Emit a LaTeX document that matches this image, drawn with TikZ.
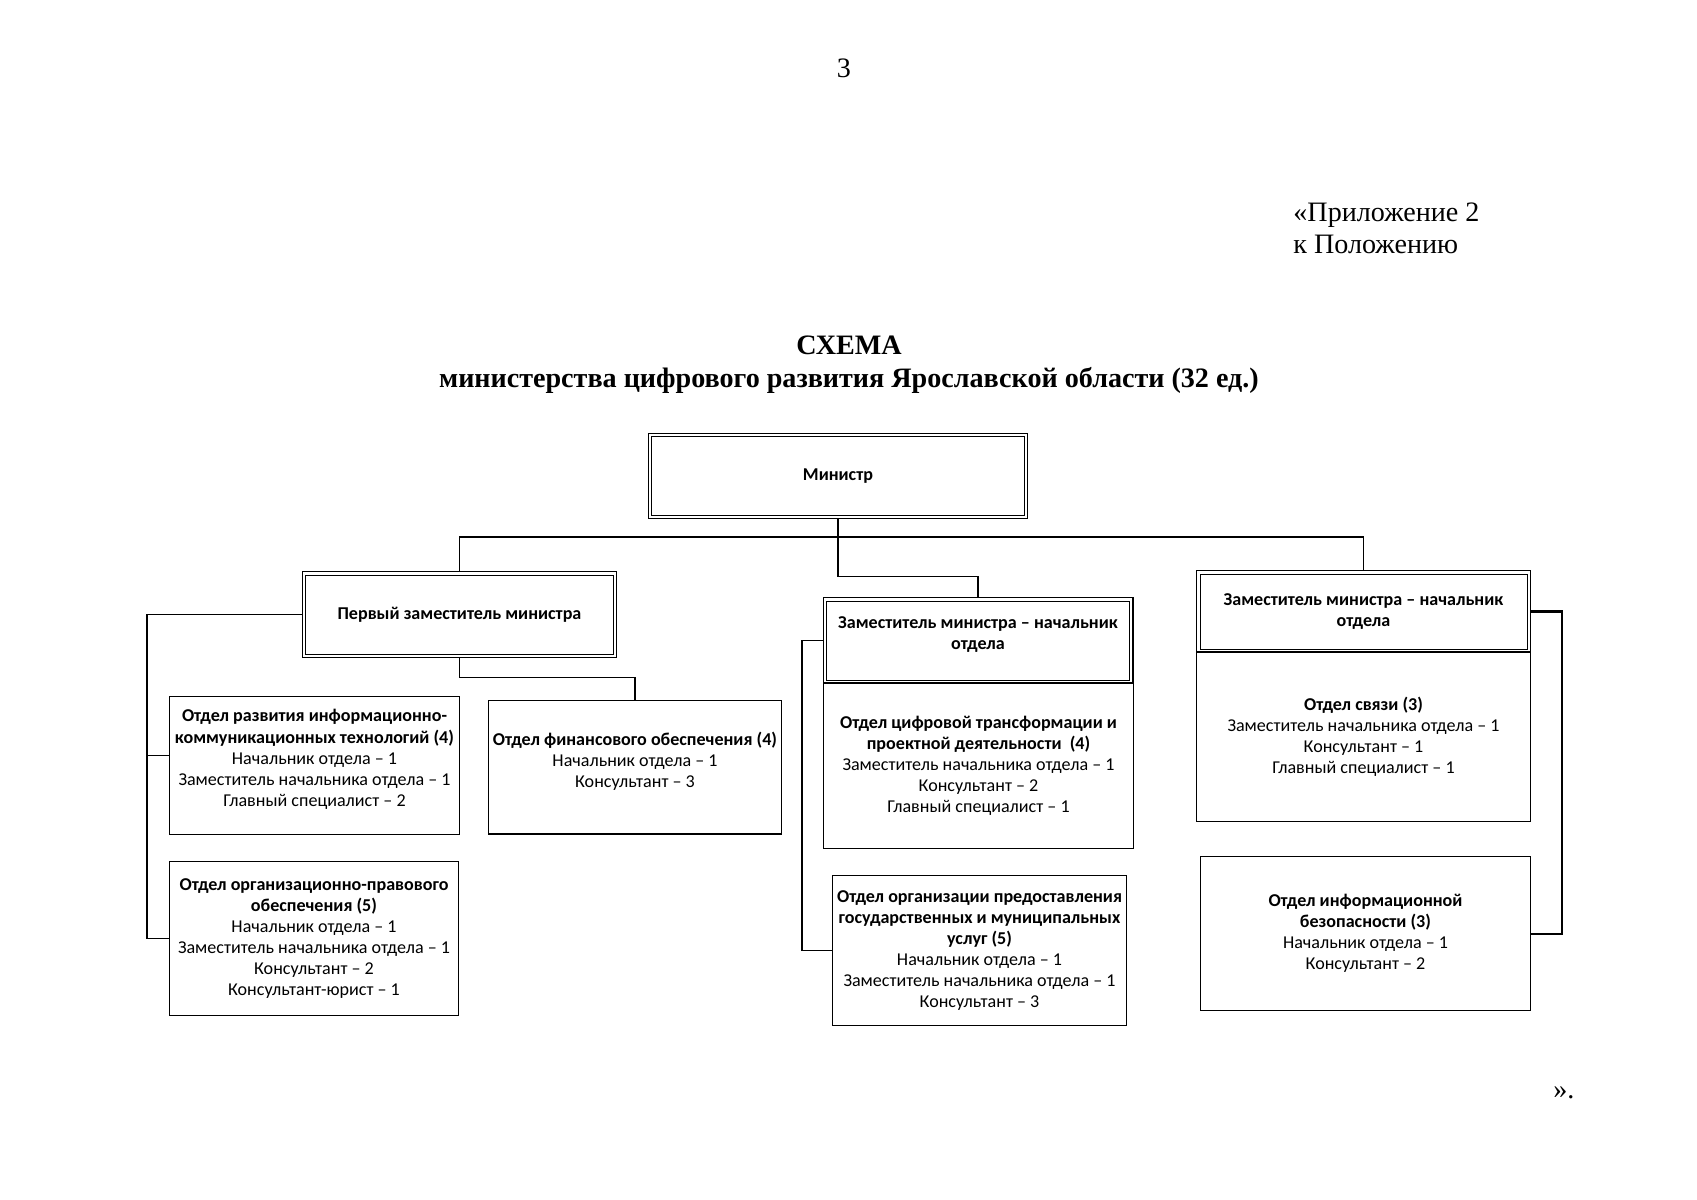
\documentclass[tikz,border=0pt]{standalone}
\usepackage{fontspec}
\setmainfont{Liberation Serif}
\newfontfamily\boxfont{Carlito}
\usepackage{tikz}

\tikzset{
	orgbox/.style={draw, line width=0.5pt, align=center, inner sep=2pt, font=\boxfont\fontsize{9}{10.5}\selectfont},
	headbox/.style={orgbox, font=\boxfont\bfseries\fontsize{9}{10.5}\selectfont},
	link/.style={line width=0.6pt},
	pagetext/.style={inner sep=0pt, font=\fontsize{14}{16}\selectfont},
}

\begin{document}
\begin{tikzpicture}[x=0.0175cm, y=-0.0175cm]
			\fill[white] (0,0) rectangle (1697,1200);
			\useasboundingbox (0,0) rectangle (1697,1200);

			\node[pagetext, anchor=base] (pagenum) at (844,78) {3};
			\node[pagetext, anchor=base west] (annex) at (1293,222) {«Приложение 2};
			\node[pagetext, anchor=base west] (annexto) at (1293,254) {к Положению};
			\node[pagetext, anchor=base, font=\bfseries\fontsize{14}{16}\selectfont] (title) at (849,355) {СХЕМА};
			\node[pagetext, anchor=base, font=\bfseries\fontsize{14}{16}\selectfont] (subtitle) at (849,387) {министерства цифрового развития Ярославской области (32 ед.)};
			\node[pagetext, anchor=base west] (closing) at (1553,1098) {».};

			\node[orgbox, minimum width=50.9mm, minimum height=24mm] (ikt) at (314.5,765.5) {\textbf{Отдел развития информационно-}\\\textbf{коммуникационных технологий (4)}\\Начальник отдела – 1\\Заместитель начальника отдела – 1\\Главный специалист – 2\\[-3pt]\mbox{}};
			\node[orgbox, minimum width=50.75mm, minimum height=23.45mm] (fin) at (635,767) {\textbf{Отдел финансового обеспечения (4)}\\Начальник отдела – 1\\Консультант – 3\\[-3pt]\mbox{}};
			\node[orgbox, minimum width=50.75mm, minimum height=27.1mm] (legal) at (314,938.5) {\textbf{Отдел организационно-правового}\\\textbf{обеспечения (5)}\\Начальник отдела – 1\\Заместитель начальника отдела – 1\\Консультант – 2\\Консультант-юрист – 1};
			\node[orgbox, minimum width=54.1mm, minimum height=28.9mm] (digit) at (978.5,765.5) {\textbf{Отдел цифровой трансформации и}\\\textbf{проектной деятельности\ \ (4)}\\Заместитель начальника отдела – 1\\Консультант – 2\\Главный специалист – 1};
			\node[orgbox, minimum width=51.6mm, minimum height=26.1mm] (serv) at (979.5,950.5) {\textbf{Отдел организации предоставления}\\\textbf{государственных и муниципальных}\\\textbf{услуг (5)}\\Начальник отдела – 1\\Заместитель начальника отдела – 1\\Консультант – 3};
			\node[orgbox, minimum width=58.3mm, minimum height=29.6mm] (svyaz) at (1363.5,736.5) {\textbf{Отдел связи (3)}\\Заместитель начальника отдела – 1\\Консультант – 1\\Главный специалист – 1};
			\node[orgbox, minimum width=57.9mm, minimum height=27.1mm] (infosec) at (1365.5,933.5) {\textbf{Отдел информационной}\\\textbf{безопасности (3)}\\Начальник отдела – 1\\Консультант – 2};

			\node[headbox, minimum width=66.5mm, minimum height=15.05mm] (minister) at (838,476) {Министр};
			\node[headbox, minimum width=55.1mm, minimum height=14.9mm] (first) at (459.5,614.5) {Первый заместитель министра};
			\node[headbox, minimum width=54.25mm, minimum height=14.9mm] (dep2) at (978,640.5) {Заместитель министра – начальник\\отдела\\[-3pt]\mbox{}};
			\node[headbox, minimum width=58.3mm, minimum height=14.2mm] (dep3) at (1363.5,611.5) {Заместитель министра – начальник\\отдела};

			\foreach \n in {minister, first, dep2, dep3}
				\draw[line width=0.4pt] ([shift={(1.8pt,-1.8pt)}]\n.north west) rectangle ([shift={(-1.8pt,1.8pt)}]\n.south east);

			\coordinate (bus) at (838,537);
			\coordinate (lbar) at (147,0);
			\coordinate (mbar) at (802,0);
			\coordinate (rbar) at (1562,0);

			\draw[link] (minister.south) -- ++(0,57) -| (dep2.north);
			\draw[link] (first.north) |- (bus) -| (dep3.north);
			\draw[link] (first.south) -- ++(0,20) -| (fin.north);
			\draw[link] (first.west) -| (lbar |- legal.west) -- (legal.west);
			\draw[link] ([yshift=1.75mm]ikt.west) -- ++(-22,0);
			\draw[link] (dep2.west) -| (mbar |- serv.west) -- (serv.west);
			\draw[link, line width=1pt] (dep3.east) -| (rbar |- infosec.east) -- (infosec.east);
		\end{tikzpicture}
\end{document}
